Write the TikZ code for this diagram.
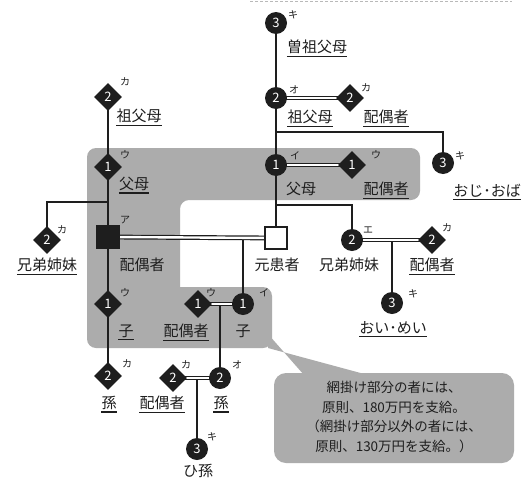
\documentclass[tikz,border=0pt]{standalone}
\usepackage{fontspec}
\setmainfont{Noto Sans CJK JP}
\usetikzlibrary{shapes.geometric,backgrounds}
\definecolor{regiongray}{RGB}{172,172,172}
\definecolor{ink}{RGB}{30,30,30}
\begin{document}
\begin{tikzpicture}[x=1pt,y=-1pt,
  conn/.style={draw=ink,line width=1.4pt},
  dbl/.style={draw=ink,line width=1.2pt,double=white,double distance=2.4pt},
  circ/.style={circle,fill=ink,text=white,minimum size=22pt,inner sep=0pt,font=\fontsize{13}{13}\selectfont},
  dia/.style={diamond,aspect=1,fill=ink,text=white,minimum size=28pt,inner sep=0pt,font=\fontsize{13}{13}\selectfont},
  sup/.style={font=\fontsize{10}{10}\selectfont,inner sep=0pt,text=ink},
  lbl/.style={font=\fontsize{15}{15}\selectfont,inner sep=0pt,text=ink},
  ul/.style={append after command={([yshift=-2pt]\tikzlastnode.south west) edge[draw=ink,line width=1.1pt] ([yshift=-2pt]\tikzlastnode.south east)}},
  ]
\useasboundingbox (0,0) rectangle (525,482);

% callout
\fill[regiongray] (268,334) -- (304,375) -- (368,375) -- (268,348) -- cycle;
\fill[regiongray,rounded corners=12pt] (274,373) rectangle (514,463);
\node[font=\fontsize{13.5}{19.5}\selectfont,align=center,text=ink] (note) at (394,417)
  {網掛け部分の者には、\\原則、180万円を支給。\\（網掛け部分以外の者には、\\原則、130万円を支給。）};

% nodes
\node[circ] (g3) at (276,23) {3};
\node[circ] (gpR) at (276,98) {2};
\node[dia] (gpRsp) at (350,98) {2};
\node[circ] (pR) at (276,165) {1};
\node[dia] (pRsp) at (352,165) {1};
\node[circ] (unc) at (443,163) {3};
\node[rectangle,draw=ink,fill=white,line width=1.4pt,minimum size=22pt,inner sep=0pt] (pat) at (276,238) {};
\node[circ] (sib) at (352,240) {2};
\node[dia] (sibsp) at (432,240) {2};
\node[circ] (neph) at (392,303) {3};

\node[dia] (gpL) at (108,97) {2};
\node[dia] (pL) at (108,167) {1};
\node[rectangle,fill=ink,minimum size=24pt,inner sep=0pt] (spo) at (108,237) {};
\node[dia] (sibL) at (47,240) {2};
\node[dia] (childL) at (108,304) {1};
\node[dia] (grandL) at (108,376) {2};

\node[circ] (child) at (243,304) {1};
\node[dia] (childsp) at (198,304) {1};
\node[circ] (grand) at (220,378) {2};
\node[dia] (grandsp) at (173,378) {2};
\node[circ] (gg) at (197,449) {3};

\coordinate (bU) at (276,132); \coordinate (bUe) at (443,132);
\coordinate (bS) at (276,205); \coordinate (bSe) at (352,205);
\coordinate (bL) at (108,202); \coordinate (bLe) at (47,202);
\coordinate (m1) at (243,237);
\coordinate (m2) at (220,304);
\coordinate (m3) at (197,378);
\coordinate (m4) at (392,240);

\begin{scope}[on background layer]
\fill[white] (0,0) rectangle (525,482);
\draw[gray!55,line width=0.6pt,dash pattern=on 3pt off 2pt] (250,1.5) -- (512,1.5);
\fill[regiongray,rounded corners=9pt] (87,148) -- (420,148) -- (420,200) -- (180,200) [sharp corners] -- (180,287) [rounded corners=9pt] -- (272,287) -- (272,348) -- (87,348) -- cycle;
\draw[conn] (g3.center) -- (gpR.center) -- (pR.center) -- (pat.center);
\draw[conn] (bU) -- (bUe) -- (unc.center);
\draw[conn] (bS) -- (bSe) -- (sib.center);
\draw[conn] (gpL.center) -- (pL.center) -- (spo.center) -- (childL.center) -- (grandL.center);
\draw[conn] (bL) -- (bLe) -- (sibL.center);
\draw[conn] (m1) -- (child.center);
\draw[conn] (m2) -- (grand.center);
\draw[conn] (m3) -- (gg.center);
\draw[conn] (m4) -- (neph.center);
\draw[dbl] (spo.center) -- (pat.center);
\draw[dbl] (gpR.center) -- (gpRsp.center);
\draw[dbl] (pR.center) -- (pRsp.center);
\draw[dbl] (childsp.center) -- (child.center);
\draw[dbl] (grandsp.center) -- (grand.center);
\draw[dbl] (sib.center) -- (sibsp.center);
\end{scope}

% superscripts
\node[sup] (s1) at (293,15) {キ};
\node[sup] (s2) at (294,90) {オ};
\node[sup] (s3) at (366,88) {カ};
\node[sup] (s4) at (295,156) {イ};
\node[sup] (s5) at (376,155) {ウ};
\node[sup] (s6) at (460,156) {キ};
\node[sup] (s7) at (125,220) {ア};
\node[sup] (s8) at (368,230) {エ};
\node[sup] (s9) at (447,228) {カ};
\node[sup] (s10) at (413,294) {キ};
\node[sup] (s11) at (125,82) {カ};
\node[sup] (s12) at (125,155) {ウ};
\node[sup] (s13) at (62,230) {カ};
\node[sup] (s14) at (125,293) {ウ};
\node[sup] (s15) at (127,364) {カ};
\node[sup] (s16) at (264,293) {イ};
\node[sup] (s17) at (211,293) {ウ};
\node[sup] (s18) at (237,365) {オ};
\node[sup] (s19) at (186,365) {カ};
\node[sup] (s20) at (212,437) {キ};

% labels
\node[lbl,ul] (l1) at (317,47) {曽祖父母};
\node[lbl,ul] (l2) at (310,117) {祖父母};
\node[lbl,ul] (l3) at (386,117) {配偶者};
\node[lbl,ul] (l4) at (487,191) {おじ･おば};
\node[lbl] (l5) at (301,189) {父母};
\node[lbl,ul] (l6) at (386,189) {配偶者};
\node[lbl,ul] (l7) at (139,116) {祖父母};
\node[lbl,ul] (l8) at (134,184) {父母};
\node[lbl,ul] (l9) at (47,265) {兄弟姉妹};
\node[lbl] (l10) at (142,265) {配偶者};
\node[lbl] (l11) at (277,265) {元患者};
\node[lbl] (l12) at (349,265) {兄弟姉妹};
\node[lbl,ul] (l13) at (432,265) {配偶者};
\node[lbl,ul] (l14) at (393,328) {おい･めい};
\node[lbl,ul] (l15) at (126,331) {子};
\node[lbl,ul] (l16) at (186,331) {配偶者};
\node[lbl] (l17) at (243,331) {子};
\node[lbl,ul] (l18) at (109,403) {孫};
\node[lbl,ul] (l19) at (162,403) {配偶者};
\node[lbl,ul] (l20) at (221,403) {孫};
\node[lbl] (l21) at (198,471) {ひ孫};
\end{tikzpicture}
\end{document}
